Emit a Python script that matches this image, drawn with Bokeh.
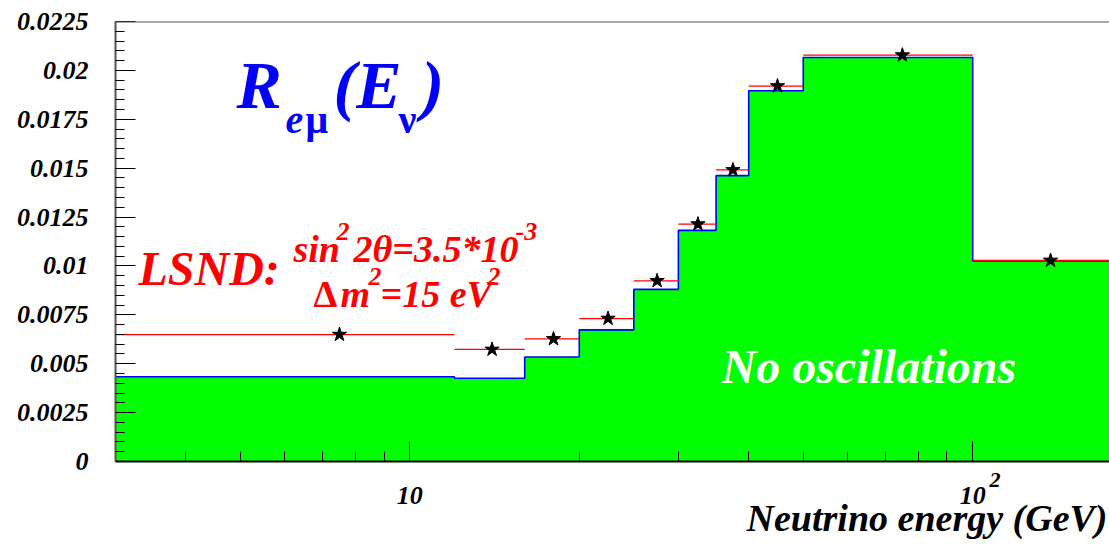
import math

from bokeh.embed import file_html
from bokeh.models import FixedTicker, Label, Span
from bokeh.plotting import figure
from bokeh.resources import INLINE

# Energy bins (GeV) and the e/mu ratio per bin
bin_edges = [3, 12, 16, 20, 25, 30, 35, 40, 50, 100, 175]
no_osc = [0.00433, 0.00426, 0.00534, 0.00673, 0.00880, 0.01182, 0.01462, 0.01896, 0.02066, 0.01025]
lsnd = [0.00649, 0.00573, 0.00627, 0.00731, 0.00924, 0.01214, 0.01491, 0.01920, 0.02078, 0.01028]

y_tick_labels = ["0", "0.0025", "0.005", "0.0075", "0.01", "0.0125", "0.015", "0.0175", "0.02", "0.0225"]
x_major_ticks = [10, 100]
x_minor_ticks = [3, 4, 5, 6, 7, 8, 9, 20, 30, 40, 50, 60, 70, 80, 90]

X_LO, X_HI = 3.0, 175.0
Y_LO, Y_HI = 0.0, 0.0225
W, H = 1109, 549
# plotting box (page pixels); the frame itself runs down to the page bottom
# so that the axis texts below y=0 are drawn inside it
F_LEFT, F_TOP, F_RIGHT, F_BOTTOM = 115, 21, 1109, 461
Y_PAGE_BOTTOM = Y_LO - (H - F_BOTTOM) / (F_BOTTOM - F_TOP) * (Y_HI - Y_LO)

FONT = "Liberation Serif"
# the label anchor sits this fraction of the font size above the glyph baseline
BASELINE_SHIFT = 0.35


def at(px, py):
    """Page pixel position -> data coordinates (log x, linear y)."""
    fx = (px - F_LEFT) / (F_RIGHT - F_LEFT)
    lx = math.log10(X_LO) + fx * (math.log10(X_HI) - math.log10(X_LO))
    fy = (F_BOTTOM - py) / (F_BOTTOM - F_TOP)
    return 10 ** lx, Y_LO + fy * (Y_HI - Y_LO)


p = figure(
    width=W, height=H,
    x_axis_type="log",
    x_range=(X_LO, X_HI), y_range=(Y_PAGE_BOTTOM, Y_HI),
    output_backend="svg", toolbar_location=None,
    min_border_left=F_LEFT, min_border_right=W - F_RIGHT,
    min_border_top=F_TOP, min_border_bottom=0,
)
p.grid.visible = False
p.background_fill_color = "white"
p.border_fill_color = "white"
p.outline_line_color = None
p.add_layout(Span(location=Y_HI, dimension="width", line_color="#555555", line_width=2))

# histogram without oscillations: green fill with a blue step outline
steps = no_osc + [no_osc[-1]]
p.varea_step(x=bin_edges, y1=[0] * len(bin_edges), y2=steps, step_mode="after",
             fill_color="#00ff00")
p.step(x=bin_edges, y=steps, mode="after", line_color="#0000ff", line_width=1.6)

# LSND expectation: red bin-wide segments with star markers
p.segment(x0=bin_edges[:-1], y0=lsnd, x1=bin_edges[1:], y1=lsnd,
          line_color="#ff0000", line_width=1.2)
centers = [(a + b) / 2 for a, b in zip(bin_edges[:-1], bin_edges[1:])]
p.scatter(x=centers, y=lsnd, marker="star", size=15,
          fill_color="black", line_color="black")

# axes
y_ticks = [float(s) for s in y_tick_labels]
y_minor = [round(0.0005 * i, 6) for i in range(46) if i % 5]
p.yaxis.ticker = FixedTicker(ticks=y_ticks, minor_ticks=y_minor)
p.yaxis.major_label_overrides = {t: s for t, s in zip(y_ticks, y_tick_labels)}
p.yaxis.bounds = (Y_LO, Y_HI)
p.xaxis.ticker = FixedTicker(ticks=x_major_ticks, minor_ticks=x_minor_ticks)
p.xaxis.major_label_overrides = {10: "10", 100: "10"}
p.xaxis.fixed_location = Y_LO

for ax in (p.xaxis[0], p.yaxis[0]):
    ax.major_tick_in = 20
    ax.major_tick_out = 0
    ax.minor_tick_in = 10
    ax.minor_tick_out = 0
    ax.major_tick_line_color = "black"
    ax.minor_tick_line_color = "black"
    ax.major_label_text_font = FONT
    ax.major_label_text_font_style = "bold italic"
    ax.major_label_text_font_size = "26px"
    ax.major_label_text_color = "black"
    ax.axis_line_width = 2
p.yaxis.minor_tick_in = 9
p.yaxis.axis_line_color = "#555555"
p.xaxis.axis_line_color = "black"
p.yaxis.major_label_standoff = 27
p.xaxis.major_label_standoff = 25


def label(px, py, text, size, color, align="left", style="bold italic"):
    x, y = at(px, py - BASELINE_SHIFT * size)
    p.add_layout(Label(x=x, y=y, text=text, text_font=FONT,
                       text_font_style=style, text_font_size=f"{size}px",
                       text_color=color, text_align=align,
                       text_baseline="alphabetic"))


# exponent of the 10^2 tick label
label(989, 487, "2", 22, "black")
# x-axis title
label(1107, 531, "Neutrino energy (GeV)", 38, "black", align="right")

# R_eμ(E_ν)
blue = "#0000ff"
label(236, 108, "R", 68, blue)
label(285, 133, "e", 40, blue)
label(305, 133, "μ", 40, blue, style="bold")
label(333, 108, "(E", 68, blue)
label(398, 133, "ν", 40, blue, style="bold")
label(421, 108, ")", 68, blue)

# LSND parameters
red = "#ff0000"
label(138, 285, "LSND:", 48, red)
label(293, 262, "sin", 38, red)
label(336, 240, "2", 26, red)
label(353, 262, "2θ=3.5*10", 38, red)
label(515, 240, "-3", 26, red)
label(313, 307, "Δ", 38, red, style="bold")
label(340, 307, "m", 38, red)
label(368, 285, "2", 26, red)
label(380, 307, "=15 eV", 38, red)
label(487, 285, "2", 26, red)

label(721, 383, "No oscillations", 48, "white")

open("out.html", "w").write(file_html(p, INLINE))
